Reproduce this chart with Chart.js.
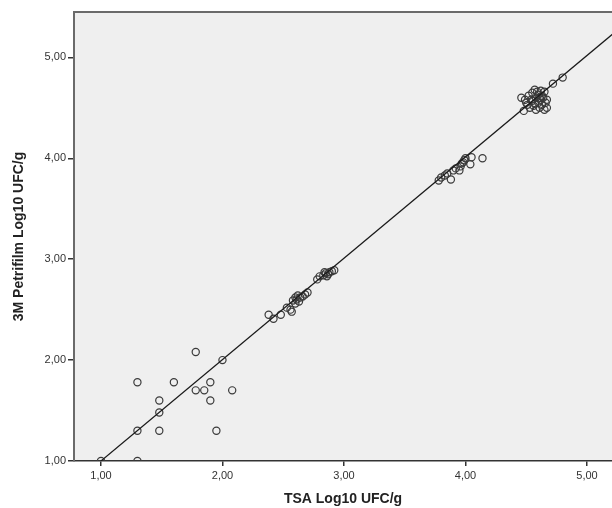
<!DOCTYPE html>
<html>
<head>
<meta charset="utf-8">
<script src="https://cdn.jsdelivr.net/npm/chart.js@4/dist/chart.umd.min.js"></script>
<style>
  html, body { margin: 0; padding: 0; background: #fff; }
  #wrap { width: 612px; height: 508px; }
</style>
</head>
<body>
<div id="wrap"><canvas id="canvasScatter"></canvas></div>
<script>
// TSA (x) vs 3M Petrifilm (y), log10 UFC/g
const tsa = [
    1.00, 1.30, 1.30, 1.30, 1.48, 1.48, 1.48, 1.60, 1.78, 1.85, 1.90, 1.90, 1.95, 2.08, 1.78, 2.00,
    2.38, 2.42, 2.48, 2.53, 2.56, 2.57, 2.60, 2.61, 2.63, 2.64, 2.66, 2.68, 2.70, 2.60, 2.58, 2.62,
    2.78, 2.80, 2.83, 2.85, 2.87, 2.88, 2.90, 2.92, 2.86, 2.84,
    3.78, 3.80, 3.83, 3.85, 3.88, 3.90, 3.92, 3.95, 3.96, 3.98, 3.99, 4.00, 4.04, 4.05, 4.14, 3.97,
    4.46, 4.48, 4.50, 4.52, 4.53, 4.55, 4.55, 4.56, 4.57, 4.58, 4.58, 4.60, 4.60, 4.61, 4.62, 4.62,
    4.63, 4.64, 4.65, 4.65, 4.66, 4.67, 4.67, 4.54, 4.59, 4.57, 4.63, 4.51, 4.49, 4.61, 4.72, 4.80
]
const petrifilm = [
    1.00, 1.00, 1.30, 1.78, 1.30, 1.48, 1.60, 1.78, 1.70, 1.70, 1.78, 1.60, 1.30, 1.70, 2.08, 2.00,
    2.45, 2.41, 2.45, 2.52, 2.50, 2.48, 2.56, 2.60, 2.58, 2.62, 2.63, 2.65, 2.67, 2.62, 2.59, 2.64,
    2.80, 2.83, 2.84, 2.86, 2.85, 2.87, 2.88, 2.89, 2.83, 2.87,
    3.78, 3.81, 3.83, 3.85, 3.79, 3.88, 3.90, 3.88, 3.92, 3.96, 3.98, 4.00, 3.94, 4.01, 4.00, 3.95,
    4.60, 4.47, 4.55, 4.62, 4.50, 4.57, 4.65, 4.52, 4.68, 4.60, 4.48, 4.55, 4.63, 4.50, 4.58, 4.67,
    4.53, 4.60, 4.66, 4.48, 4.55, 4.58, 4.50, 4.58, 4.66, 4.54, 4.62, 4.53, 4.58, 4.60, 4.74, 4.80
]
// reference (fit) line end points
const fitX = [1.00, 5.21]
const fitY = [1.00, 5.23]
const tickValues = [1, 2, 3, 4, 5]

const formatTick = v => v.toFixed(2).replace(".", ",")

const plotBackground = {
    id: "plotBackground",
    beforeDraw: chart => {
        const { ctx, chartArea: a } = chart
        ctx.save()
        ctx.fillStyle = "#efefef"
        ctx.fillRect(a.left, a.top, a.right - a.left, a.bottom - a.top)
        ctx.restore()
    },
    afterDraw: chart => {
        const { ctx, chartArea: a } = chart
        ctx.save()
        ctx.strokeStyle = "#6a6a6a"
        ctx.lineWidth = 2
        ctx.beginPath()
        ctx.moveTo(a.left - 1, a.top)
        ctx.lineTo(a.right, a.top)
        ctx.stroke()
        ctx.restore()
    }
}

new Chart(document.getElementById("canvasScatter"), {
    type: "scatter",
    data: {
        datasets: [
            {
                type: "line",
                data: fitX.map((x, i) => ({ x, y: fitY[i] })),
                borderColor: "#1a1a1a",
                borderWidth: 1.2,
                pointRadius: 0,
                fill: false
            },
            {
                data: tsa.map((x, i) => ({ x, y: petrifilm[i] })),
                pointStyle: "circle",
                pointRadius: 3.6,
                borderWidth: 1.2,
                borderColor: "#3a3a3a",
                backgroundColor: "rgba(0,0,0,0)"
            }
        ]
    },
    options: {
        responsive: true,
        maintainAspectRatio: false,
        animation: false,
        layout: { autoPadding: false, padding: { top: 12, right: 0, left: 0, bottom: 0 } },
        plugins: { legend: { display: false }, tooltip: { enabled: false } },
        scales: {
            x: {
                type: "linear",
                min: 0.778,
                max: 5.206,
                afterBuildTicks: scale => { scale.ticks = tickValues.map(value => ({ value })) },
                afterFit: scale => { scale.height = 47 },
                grid: { drawOnChartArea: false, drawTicks: true, tickLength: 5, color: "#333", lineWidth: 1.5 },
                border: { display: true, color: "#333", width: 1.5 },
                ticks: {
                    callback: formatTick,
                    color: "#333",
                    font: { family: "Liberation Sans, Arial", size: 11 },
                    padding: 3,
                    maxRotation: 0
                },
                title: {
                    display: true,
                    text: "TSA Log10 UFC/g",
                    color: "#222",
                    font: { family: "Liberation Sans, Arial", size: 14, weight: "bold" },
                    padding: { top: 4, bottom: 0 }
                }
            },
            y: {
                type: "linear",
                min: 1.0,
                max: 5.45,
                afterBuildTicks: scale => { scale.ticks = tickValues.map(value => ({ value })) },
                afterFit: scale => { scale.width = 74 },
                grid: { drawOnChartArea: false, drawTicks: true, tickLength: 6, color: "#333", lineWidth: 1.5 },
                border: { display: true, color: "#6a6a6a", width: 2 },
                ticks: {
                    callback: formatTick,
                    color: "#333",
                    font: { family: "Liberation Sans, Arial", size: 11 },
                    padding: 2
                },
                title: {
                    display: true,
                    text: "3M Petrifilm Log10 UFC/g",
                    color: "#222",
                    font: { family: "Liberation Sans, Arial", size: 14, weight: "bold" },
                    padding: { top: 11, bottom: 0 }
                }
            }
        }
    },
    plugins: [plotBackground]
})
</script>
</body>
</html>
